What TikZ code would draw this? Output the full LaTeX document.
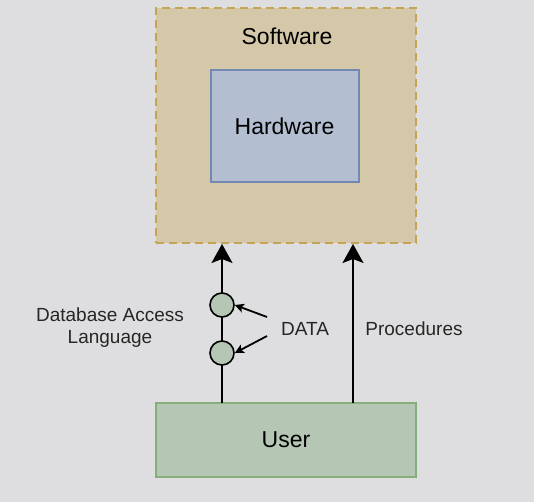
\documentclass[tikz,border=0pt]{standalone}
\usepackage{fontspec}
\setmainfont{Liberation Sans}
\usetikzlibrary{arrows.meta}
\definecolor{bgc}{HTML}{DEDEE0}
\definecolor{swfill}{HTML}{D5C8A9}
\definecolor{swdraw}{HTML}{C6A456}
\definecolor{hwfill}{HTML}{B3BFD1}
\definecolor{hwdraw}{HTML}{7489B2}
\definecolor{usfill}{HTML}{B5C6B5}
\definecolor{usdraw}{HTML}{86AE7C}
\tikzset{
  box/.style={rectangle, inner sep=0pt, line width=2pt},
  bigarrow/.style={line width=2pt, -{Stealth[length=19pt,width=21pt,inset=4pt]}},
  smallarrow/.style={line width=1.8pt, -{Stealth[length=9pt,width=9pt,inset=2pt]}},
  datacirc/.style={circle, draw=black, fill=usfill, line width=1.6pt, minimum size=24pt, inner sep=0pt},
  lbl/.style={font=\fontsize{19}{22}\selectfont, text=black!85, align=center}
}
\begin{document}
\begin{tikzpicture}[x=1pt,y=-1pt]
\fill[bgc] (0,0) rectangle (534,502);
\useasboundingbox (0,0) rectangle (534,502);
\node[box, fill=swfill, draw=swdraw, line width=2.6pt, dash pattern=on 8pt off 5pt, minimum width=260pt, minimum height=235pt] (sw) at (286,125.5) {};
\node[font=\fontsize{23}{26}\selectfont] (swl) at (287,36) {Software};
\node[box, fill=hwfill, draw=hwdraw, minimum width=148pt, minimum height=112pt, font=\fontsize{23}{26}\selectfont] (hw) at (284.5,126) {Hardware};
\node[box, fill=usfill, draw=usdraw, minimum width=260pt, minimum height=74pt, font=\fontsize{23}{26}\selectfont] (us) at (286,440) {User};
\coordinate (l1) at (222,403);
\coordinate (l2) at (222,244);
\coordinate (r1) at (353,403);
\coordinate (r2) at (353,244);
\draw[bigarrow] (l1) -- (l2);
\draw[bigarrow] (r1) -- (r2);
\node[datacirc] (c1) at (222,305) {};
\node[datacirc] (c2) at (222,353) {};
\node[lbl] (data) at (305,329) {DATA};
\node[lbl] (dal) at (110,328) {Database Access\\Language};
\node[lbl] (proc) at (414,329) {Procedures};
\coordinate (d1) at (267,317);
\coordinate (d2) at (267,336);
\draw[smallarrow] (d1) -- (c1.east);
\draw[smallarrow] (d2) -- (c2.east);
\end{tikzpicture}
\end{document}
